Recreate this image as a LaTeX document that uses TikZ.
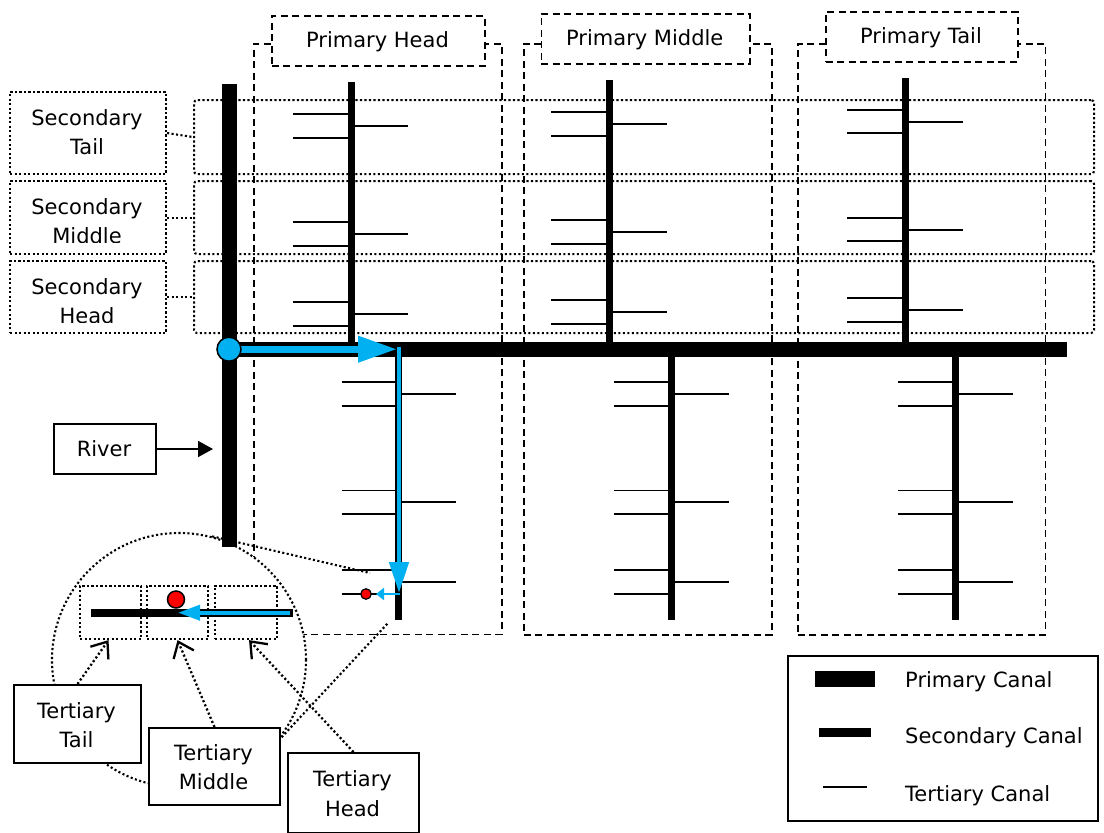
\documentclass[tikz,border=0pt]{standalone}
\usepackage{fontspec}
\setmainfont{DejaVu Sans}
\usetikzlibrary{arrows.meta}
\definecolor{flowblue}{HTML}{00B0F0}
\definecolor{dotred}{HTML}{FF0000}
\begin{document}
\begin{tikzpicture}[x=1pt,y=-1pt,
  font=\fontsize{21}{24}\selectfont,
  dotline/.style={line width=2.1pt, dash pattern=on 2.1pt off 2.4pt},
  dashline/.style={line width=1.8pt, dash pattern=on 7pt off 4.5pt},
  rbox/.style={anchor=north west, inner sep=0pt},
  tert/.style={line width=1.9pt},
  sec/.style={line width=7pt},
  prim/.style={line width=15pt},
  txt/.style={anchor=base, inner sep=0pt},
  solidbox/.style={rbox, draw, line width=2pt, fill=white},
  lblarrow/.style={dotline, line width=2.3pt, -{Straight Barb[length=14pt,width=22pt,line width=2.3pt]}},
]
\useasboundingbox (0,0) rectangle (1104,833);

% ---------- secondary zones (dotted) ----------
\node[rbox, draw, dotline, rounded corners=3pt, minimum width=900pt, minimum height=74pt] (sr1) at (193,99) {};
\node[rbox, draw, dotline, rounded corners=3pt, minimum width=900pt, minimum height=73pt] (sr2) at (193,180) {};
\node[rbox, draw, dotline, rounded corners=3pt, minimum width=900pt, minimum height=72pt] (sr3) at (193,260) {};

% ---------- primary zones (dashed) ----------
\node[rbox, draw, dashline, minimum width=248pt, minimum height=590.5pt] (pr1) at (253,43) {};
\node[rbox, draw, dashline, minimum width=248pt, minimum height=591pt] (pr2) at (523,43) {};
\node[rbox, draw, dashline, minimum width=247.5pt, minimum height=591pt] (pr3) at (797,43) {};

% ---------- primary labels ----------
\node[rbox, draw, dashline, fill=white, minimum width=213pt, minimum height=50pt] (pl1) at (271,15) {};
\node[txt] (pl1t) at (377.5,47) {Primary Head};
\node[rbox, draw, dashline, fill=white, minimum width=208.5pt, minimum height=50pt] (pl2) at (540.5,13) {};
\node[txt] (pl2t) at (644.75,45) {Primary Middle};
\node[rbox, draw, dashline, fill=white, minimum width=192pt, minimum height=50pt] (pl3) at (825,11) {};
\node[txt] (pl3t) at (921,43.3) {Primary Tail};

% ---------- secondary labels ----------
\node[rbox, draw, dotline, minimum width=156pt, minimum height=82pt] (sl1) at (9,91) {};
\node[txt] (sl1a) at (87,125) {Secondary};
\node[txt] (sl1b) at (87,154) {Tail};
\node[rbox, draw, dotline, minimum width=156pt, minimum height=73pt] (sl2) at (9,180) {};
\begin{scope}
  \clip (9,180) rectangle (165,242.3);
  \node[txt] (sl2a) at (87,214) {Secondary};
  \node[txt] (sl2b) at (87,243) {Middle};
\end{scope}
\node[rbox, draw, dotline, minimum width=156pt, minimum height=72pt] (sl3) at (9,260) {};
\begin{scope}
  \clip (9,260) rectangle (165,322.5);
  \node[txt] (sl3a) at (87,294) {Secondary};
  \node[txt] (sl3b) at (87,323.5) {Head};
\end{scope}
\draw[dotline] (sl1.east) -- (sr1.west);
\draw[dotline] (sl2.east) -- (sr2.west);
\draw[dotline] (sl3.east) -- (sr3.west);

% ---------- magnifier circle ----------
\node[circle, draw, dotline, fill=white, minimum size=254pt, inner sep=0pt] (mag) at (179,660) {};
\coordinate (m1) at (370,573);
\coordinate (m2) at (388,623);
\draw[dotline] (mag.75.9) -- (m1);
\draw[dotline] (mag.-39.6) -- (m2);

% ---------- tertiary canals ----------
\foreach \y in {114.3,137.7,221.7,245.7,302.3,325.7} \draw[tert] (293,\y) -- (351,\y);
\foreach \y in {126,234.3,314.3} \draw[tert] (351,\y) -- (408,\y);
\foreach \y in {112.3,135.7,220,243.7,300.3,323.7} \draw[tert] (551,\y) -- (609,\y);
\foreach \y in {124.3,232,312.3} \draw[tert] (609,\y) -- (667,\y);
\foreach \y in {110,133.3,218.3,241.3,298.3,321.7} \draw[tert] (847,\y) -- (905,\y);
\foreach \y in {122.3,230,310.3} \draw[tert] (905,\y) -- (963,\y);
\foreach \sx in {398.5,671,955}{
  \foreach \y in {382.3,405.7,490.5,513.7,570.3,594} \draw[tert] ({\sx-57},\y) -- (\sx,\y);
  \foreach \y in {394,502.3,582.3} \draw[tert] (\sx,\y) -- ({\sx+57.5},\y);
}

% ---------- secondary canals ----------
\draw[sec] (351,82) -- (351,349);
\draw[sec] (609,80) -- (609,349);
\draw[sec] (905,78) -- (905,349);
\draw[sec] (398.5,349) -- (398.5,619.5);
\draw[sec] (671,349) -- (671,619.5);
\draw[sec] (955,349) -- (955,619.5);

% ---------- primary canal and river ----------
\draw[prim] (229,349.2) -- (1066.5,349.2);
\draw[prim] (229,84) -- (229,547);

% ---------- zoomed tertiary zones ----------
\node[rbox, draw, dotline, minimum width=61pt, minimum height=53.5pt] (tz1) at (79,584.5) {};
\node[rbox, draw, dotline, minimum width=61pt, minimum height=53.5pt] (tz2) at (146,584.5) {};
\node[rbox, draw, dotline, minimum width=62pt, minimum height=53.5pt] (tz3) at (214,584.5) {};
\draw[line width=7.7pt] (91,612.7) -- (293,612.7);
\draw[flowblue, line width=3.8pt, -{Triangle[length=22pt,width=15pt]}] (290,612.7) -- (178,612.7);
\node[circle, draw, line width=1.5pt, fill=dotred, minimum size=17pt, inner sep=0pt] (rd2) at (176,599.5) {};

% ---------- tertiary labels ----------
\node[solidbox, minimum width=127pt, minimum height=78pt] (tl1) at (13,684) {};
\node[txt] (tl1a) at (76.5,718.3) {Tertiary};
\node[txt] (tl1b) at (76.5,747.7) {Tail};
\node[solidbox, minimum width=131pt, minimum height=77pt] (tl2) at (148,727) {};
\node[txt] (tl2a) at (213.5,760.7) {Tertiary};
\node[txt] (tl2b) at (213.5,789.3) {Middle};
\node[solidbox, minimum width=131pt, minimum height=80pt] (tl3) at (287,752) {};
\node[txt] (tl3a) at (352.5,786.7) {Tertiary};
\node[txt] (tl3b) at (352.5,816) {Head};
\draw[lblarrow] (tl1.north) -- ([xshift=-2pt]tz1.south);
\draw[lblarrow] (tl2.north) -- (tz2.south);
\draw[lblarrow] (tl3.north) -- ([xshift=3pt]tz3.south);

% ---------- flow path ----------
\coordinate (jn) at (229,349.2);
\coordinate (corner) at (397,349.2);
\coordinate (vtop) at (399,347);
\coordinate (vend) at (399,593);
\coordinate (hstart) at (400,594);
\coordinate (hend) at (376,594);
\draw[flowblue, line width=7pt, -{Triangle[length=39pt,width=25pt]}] (jn) -- (corner);
\draw[flowblue, line width=4.8pt, -{Triangle[length=31pt,width=19pt]}] (vtop) -- (vend);
\draw[flowblue, line width=2.4pt, -{Triangle[length=8pt,width=12pt]}] (hstart) -- (hend);
\node[circle, draw, line width=1.5pt, fill=flowblue, minimum size=24pt, inner sep=0pt] (jnc) at (jn) {};
\node[circle, draw, line width=1.2pt, fill=dotred, minimum size=10.5pt, inner sep=0pt] (rd1) at (366,594) {};

% ---------- river label ----------
\node[solidbox, minimum width=102pt, minimum height=50pt] (river) at (53,423) {};
\node[txt] (rivert) at (104,456.7) {River};
\coordinate (riverpt) at (213,448);
\draw[line width=1.8pt, -{Triangle[length=15pt,width=16pt]}] (river.east) -- (river.east -| riverpt);

% ---------- legend ----------
\node[solidbox, minimum width=310pt, minimum height=165pt] (legend) at (787,655) {};
\fill (815,671) rectangle (875,687);
\fill (819,728) rectangle (871,737);
\draw[tert] (823,787) -- (867,787);
\node[anchor=base west, inner sep=0pt] (lg1) at (905,687) {Primary Canal};
\node[anchor=base west, inner sep=0pt] (lg2) at (905,743) {Secondary Canal};
\node[anchor=base west, inner sep=0pt] (lg3) at (905,801) {Tertiary Canal};
\end{tikzpicture}
\end{document}
